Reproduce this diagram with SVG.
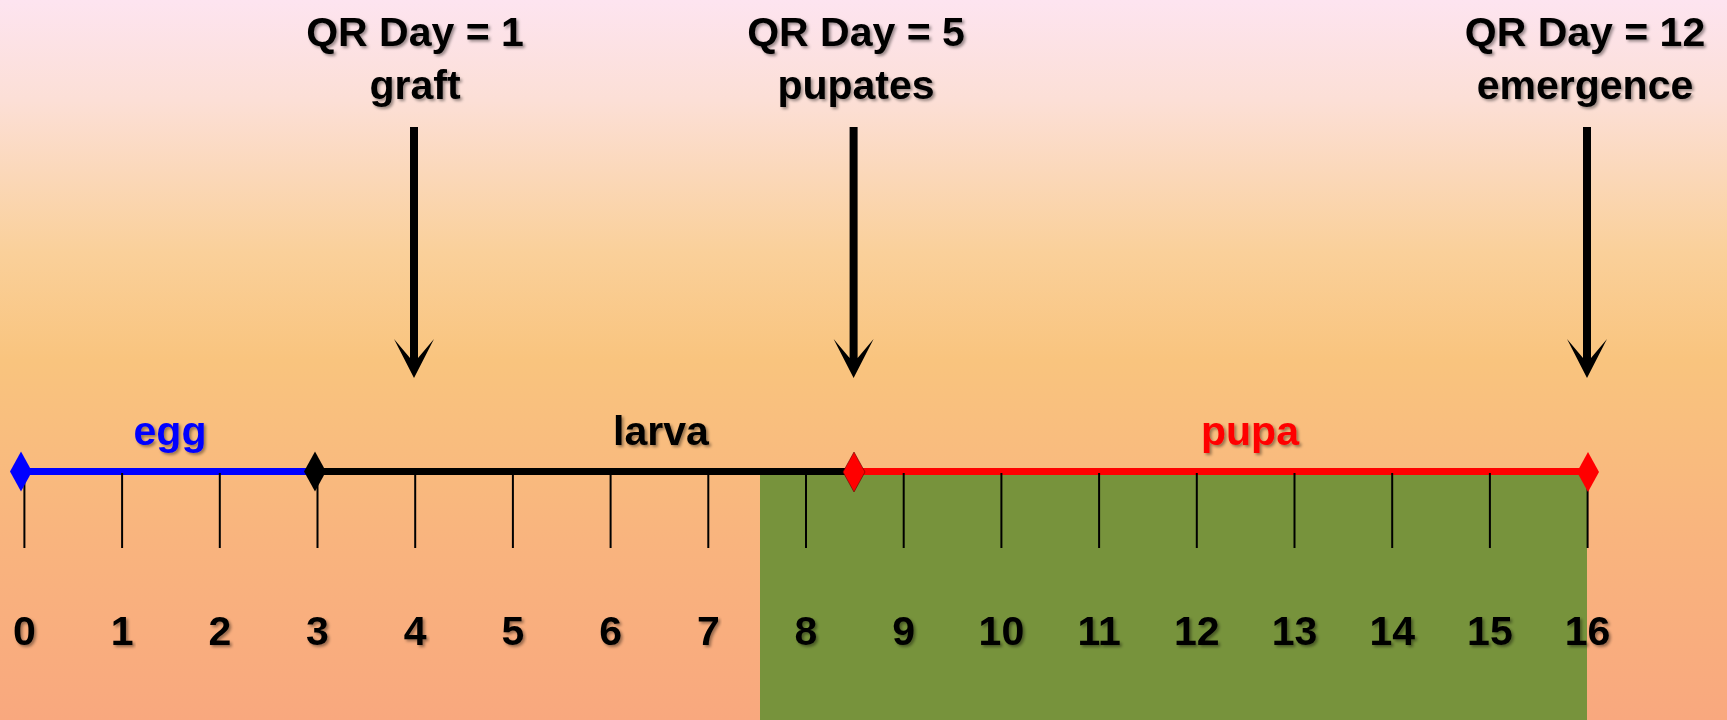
<svg xmlns="http://www.w3.org/2000/svg" width="1727" height="720" viewBox="0 0 1727 720">
  <defs>
    <linearGradient id="bg" x1="0" y1="0" x2="0" y2="1">
      <stop offset="0" stop-color="#FDE4F0"/>
      <stop offset="0.14" stop-color="#FCDFD6"/>
      <stop offset="0.35" stop-color="#FAD09A"/>
      <stop offset="0.5" stop-color="#F9C47E"/>
      <stop offset="0.75" stop-color="#F9B47E"/>
      <stop offset="1" stop-color="#F9A87E"/>
    </linearGradient>
    <filter id="sh" x="-10%" y="-20%" width="120%" height="150%">
      <feDropShadow dx="2" dy="2" stdDeviation="1.5" flood-color="#000" flood-opacity="0.4"/>
    </filter>
  </defs>
  <style>
    text { font-family: "Liberation Sans", Arial, sans-serif; font-weight: bold; text-anchor: middle; filter: url(#sh); }
    .hdr { font-size: 41px; fill: #000; }
    .num { font-size: 41px; fill: #000; }
    .stage { font-size: 41px; }
    .tick { stroke: #000; stroke-width: 2; }
    .axis { stroke-width: 7; fill: none; }
    .arrow { fill: #000; }
  </style>

  <rect id="background" x="0" y="0" width="1727" height="720" fill="url(#bg)"/>
  <rect id="pupal-zone" x="760" y="468" width="827" height="252" fill="#77933C"/>

  <g id="timeline">
    <line class="axis" x1="24" y1="471.5" x2="315" y2="471.5" stroke="#0000FF"/>
    <line class="axis" x1="315" y1="471.5" x2="854" y2="471.5" stroke="#000000"/>
    <line class="axis" x1="854" y1="471.5" x2="1588" y2="471.5" stroke="#FF0000"/>
  </g>

  <g id="ticks">
    <line class="tick" x1="24.4" y1="473" x2="24.4" y2="548"/>
    <line class="tick" x1="122.1" y1="473" x2="122.1" y2="548"/>
    <line class="tick" x1="219.8" y1="473" x2="219.8" y2="548"/>
    <line class="tick" x1="317.5" y1="473" x2="317.5" y2="548"/>
    <line class="tick" x1="415.2" y1="473" x2="415.2" y2="548"/>
    <line class="tick" x1="512.9" y1="473" x2="512.9" y2="548"/>
    <line class="tick" x1="610.6" y1="473" x2="610.6" y2="548"/>
    <line class="tick" x1="708.3" y1="473" x2="708.3" y2="548"/>
    <line class="tick" x1="806" y1="473" x2="806" y2="548"/>
    <line class="tick" x1="903.7" y1="473" x2="903.7" y2="548"/>
    <line class="tick" x1="1001.4" y1="473" x2="1001.4" y2="548"/>
    <line class="tick" x1="1099.1" y1="473" x2="1099.1" y2="548"/>
    <line class="tick" x1="1196.8" y1="473" x2="1196.8" y2="548"/>
    <line class="tick" x1="1294.5" y1="473" x2="1294.5" y2="548"/>
    <line class="tick" x1="1392.2" y1="473" x2="1392.2" y2="548"/>
    <line class="tick" x1="1489.9" y1="473" x2="1489.9" y2="548"/>
    <line class="tick" x1="1587.6" y1="473" x2="1587.6" y2="548"/>
  </g>

  <g id="diamonds">
    <polygon id="d-egg" points="21,451.5 32,471.5 21,491.5 10,471.5" fill="#0000FF"/>
    <polygon id="d-larva" points="315,451.5 326,471.5 315,491.5 304,471.5" fill="#000000"/>
    <polygon id="d-pupa" points="854,452 865,472 854,492 843,472" fill="#FF0000" stroke="#600" stroke-width="0.6"/>
    <polygon id="d-end" points="1588,452 1599,472 1588,492 1577,472" fill="#FF0000"/>
  </g>

  <g id="numbers">
    <text class="num" x="24.4" y="645">0</text>
    <text class="num" x="122.1" y="645">1</text>
    <text class="num" x="219.8" y="645">2</text>
    <text class="num" x="317.5" y="645">3</text>
    <text class="num" x="415.2" y="645">4</text>
    <text class="num" x="512.9" y="645">5</text>
    <text class="num" x="610.6" y="645">6</text>
    <text class="num" x="708.3" y="645">7</text>
    <text class="num" x="806" y="645">8</text>
    <text class="num" x="903.7" y="645">9</text>
    <text class="num" x="1001.4" y="645">10</text>
    <text class="num" x="1099.1" y="645">11</text>
    <text class="num" x="1196.8" y="645">12</text>
    <text class="num" x="1294.5" y="645">13</text>
    <text class="num" x="1392.2" y="645">14</text>
    <text class="num" x="1489.9" y="645">15</text>
    <text class="num" x="1587.6" y="645">16</text>
  </g>

  <g id="stage-egg"><text class="stage" x="170" y="445" fill="#0000FF">egg</text></g>
  <g id="stage-larva"><text class="stage" x="661" y="445" fill="#000000">larva</text></g>
  <g id="stage-pupa"><text class="stage" x="1250" y="445" fill="#FF0000">pupa</text></g>

  <g id="event-graft">
    <text class="hdr" x="415" y="46">QR Day = 1</text>
    <text class="hdr" x="415" y="99">graft</text>
  </g>
  <g id="event-pupates">
    <text class="hdr" x="856" y="46">QR Day = 5</text>
    <text class="hdr" x="856" y="99">pupates</text>
  </g>
  <g id="event-emergence">
    <text class="hdr" x="1585" y="46">QR Day = 12</text>
    <text class="hdr" x="1585" y="99">emergence</text>
  </g>

  <g id="connectors">
    <path class="arrow" d="M410,127 H418 V358 L434,339 L414,378 L394,339 L410,358 Z"/>
    <path class="arrow" d="M849.6,127 H857.6 V358 L873.6,339 L853.6,378 L833.6,339 L849.6,358 Z"/>
    <path class="arrow" d="M1583,127 H1591 V358 L1607,339 L1587,378 L1567,339 L1583,358 Z"/>
  </g>
</svg>
